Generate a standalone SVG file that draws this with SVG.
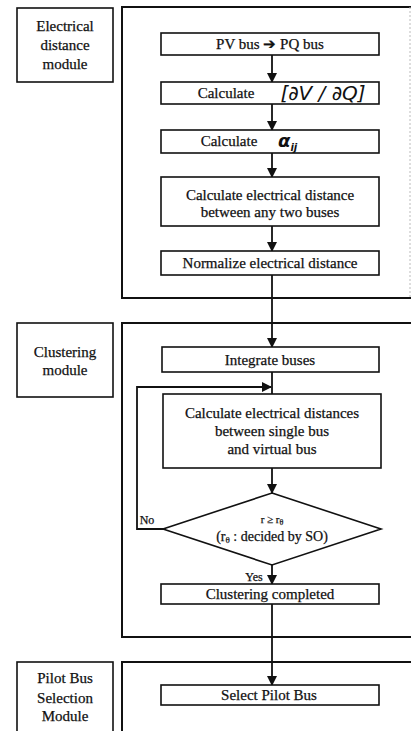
<svg xmlns="http://www.w3.org/2000/svg" width="411" height="731" viewBox="0 0 411 731">
<style>
.frame{fill:none;stroke:#111;stroke-width:2}
.edge{fill:none;stroke:#bbb;stroke-width:1;stroke-dasharray:2 2}
.box{fill:#fff;stroke:#111;stroke-width:1.6}
.t{font-family:"Liberation Serif","Times New Roman",serif;font-size:15px;fill:#111;stroke:#111;stroke-width:0.25;text-anchor:middle}
.m{font-family:"DejaVu Sans","Liberation Sans",sans-serif;font-style:italic;fill:#111}
.ln{fill:none;stroke:#111;stroke-width:1.8}
</style>
<defs>
<marker id="ah" markerWidth="10" markerHeight="12" refX="9" refY="5" orient="auto" markerUnits="userSpaceOnUse">
<path d="M0,0 L10,5 L0,10 Z" fill="#111"/>
</marker>
</defs>
<g id="modules">
<g id="module-electrical">
<rect class="box" x="17" y="8" width="96" height="74"/>
<text class="t" x="65" y="31">Electrical</text>
<text class="t" x="65" y="50">distance</text>
<text class="t" x="65" y="69">module</text>
<path class="frame" d="M411,7 L122,7 L122,298 L411,298"/>
<line class="edge" x1="410" y1="7" x2="410" y2="298"/>
</g>
<g id="module-clustering">
<rect class="box" x="17" y="323" width="96" height="74"/>
<text class="t" x="65" y="357">Clustering</text>
<text class="t" x="65" y="375">module</text>
<path class="frame" d="M411,323 L122,323 L122,637 L411,637"/>
</g>
<g id="module-pilot">
<rect class="box" x="17" y="662" width="96" height="80"/>
<text class="t" x="65" y="683">Pilot Bus</text>
<text class="t" x="65" y="703">Selection</text>
<text class="t" x="65" y="721">Module</text>
<path class="frame" d="M411,662 L122,662 L122,740"/>
</g>
</g>
<g id="connectors">
<line class="ln" x1="272" y1="55" x2="272" y2="82" marker-end="url(#ah)"/>
<line class="ln" x1="272" y1="104" x2="272" y2="130" marker-end="url(#ah)"/>
<line class="ln" x1="272" y1="153" x2="272" y2="177" marker-end="url(#ah)"/>
<line class="ln" x1="272" y1="226" x2="272" y2="251" marker-end="url(#ah)"/>
<line class="ln" x1="272" y1="275" x2="272" y2="347" marker-end="url(#ah)"/>
<line class="ln" x1="272" y1="372" x2="272" y2="394"/>
<line class="ln" x1="272" y1="468" x2="272" y2="493" marker-end="url(#ah)"/>
<line class="ln" x1="272" y1="565" x2="272" y2="584" marker-end="url(#ah)"/>
<line class="ln" x1="272" y1="604" x2="272" y2="685" marker-end="url(#ah)"/>
<path class="ln" d="M163,529 L137,529 L137,387 L271,387" marker-end="url(#ah)"/>
<text class="t" x="147" y="524" style="font-size:12px">No</text>
<text class="t" x="254" y="581" style="font-size:12px">Yes</text>
</g>
<g id="n1">
<rect class="box" x="161" y="33" width="218" height="22"/>
<text class="t" x="270" y="49">PV bus ➔ PQ bus</text>
</g>
<g id="n2">
<rect class="box" x="161" y="82" width="218" height="22"/>
<text class="t" x="226" y="98">Calculate</text>
<text class="m" x="323" y="100" style="font-size:20px" text-anchor="middle">[∂V / ∂Q]</text>
</g>
<g id="n3">
<rect class="box" x="161" y="130" width="218" height="23"/>
<text class="t" x="229" y="146">Calculate</text>
<text class="m" x="278" y="147" style="font-size:18px;font-weight:bold">α<tspan dy="4" style="font-size:10px">ij</tspan></text>
</g>
<g id="n4">
<rect class="box" x="161" y="177" width="218" height="49"/>
<text class="t" x="270" y="200">Calculate electrical distance</text>
<text class="t" x="270" y="217">between any two buses</text>
</g>
<g id="n5">
<rect class="box" x="161" y="251" width="218" height="24"/>
<text class="t" x="270" y="268">Normalize electrical distance</text>
</g>
<g id="n6">
<rect class="box" x="162" y="347" width="217" height="25"/>
<text class="t" x="270" y="365">Integrate buses</text>
</g>
<g id="n7">
<rect class="box" x="163" y="394" width="218" height="74"/>
<text class="t" x="272" y="418">Calculate electrical distances</text>
<text class="t" x="272" y="436">between single bus</text>
<text class="t" x="272" y="454">and virtual bus</text>
</g>
<g id="n8">
<polygon class="box" points="272,493 381,529 272,565 163,529"/>
<text class="t" x="272" y="523" style="font-size:11px">r ≥ r<tspan dy="2" style="font-size:8px">θ</tspan></text>
<text class="t" x="272" y="541" style="font-size:14px">(r<tspan dy="2" style="font-size:9px">θ</tspan><tspan dy="-2"> : decided by SO)</tspan></text>
</g>
<g id="n9">
<rect class="box" x="161" y="584" width="218" height="20"/>
<text class="t" x="270" y="599">Clustering completed</text>
</g>
<g id="n10">
<rect class="box" x="161" y="685" width="218" height="20"/>
<text class="t" x="269" y="700">Select Pilot Bus</text>
</g>
</svg>
